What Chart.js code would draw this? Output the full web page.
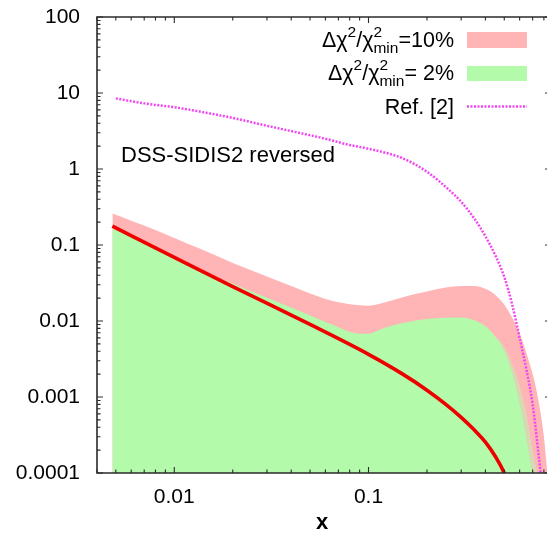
<!DOCTYPE html>
<html>
<head>
<meta charset="utf-8">
<script src="https://cdn.jsdelivr.net/npm/chart.js@4.4.1/dist/chart.umd.min.js"></script>
<style>
html,body{margin:0;padding:0;background:#fff;}
#wrap{width:547px;height:537px;position:relative;}
</style>
</head>
<body>
<div id="wrap"><canvas id="c"></canvas></div>
<script>
// ---------- data ----------
const xBand = [0.0048, 0.006, 0.008, 0.01, 0.0136, 0.02, 0.03, 0.04, 0.05, 0.06, 0.07, 0.08, 0.09, 0.1, 0.11, 0.13, 0.16, 0.2, 0.25, 0.3, 0.35, 0.4, 0.45, 0.5, 0.55, 0.6, 0.65, 0.7, 0.75, 0.8, 0.84];
const band10Upper = [0.26, 0.209, 0.158, 0.124, 0.089, 0.058, 0.0385, 0.0288, 0.023, 0.0195, 0.0176, 0.0166, 0.0161, 0.0159, 0.0165, 0.0185, 0.0215, 0.0245, 0.0275, 0.0288, 0.0288, 0.0265, 0.022, 0.0165, 0.011, 0.0068, 0.0038, 0.002, 0.0009, 0.0003, 0.00008];
const band2Upper = [0.163, 0.128, 0.089, 0.067, 0.0466, 0.0309, 0.0202, 0.0149, 0.0118, 0.0097, 0.0083, 0.0072, 0.0068, 0.0068, 0.0074, 0.0086, 0.0097, 0.0106, 0.011, 0.0111, 0.0102, 0.0085, 0.0062, 0.004, 0.002, 0.0008, 0.00028, 0.00009, 0.00003, 0.00001, 0.000005];
const xOverlap = [0.45, 0.5, 0.55, 0.6, 0.65, 0.7, 0.75, 0.8];
const overlapUpper = [0.0062, 0.0046, 0.0027, 0.0014, 0.0006, 0.0002, 0.00008, 0.00002];
const xCentral = [0.0048, 0.01, 0.02, 0.05, 0.1, 0.15, 0.2, 0.25, 0.3, 0.35, 0.4, 0.45, 0.5, 0.55];
const central = [0.177, 0.0689, 0.0284, 0.009, 0.00364, 0.002, 0.00123, 0.0008, 0.00054, 0.00037, 0.000255, 0.000165, 0.0001, 0.00005];
const xRef = [0.005, 0.007, 0.01, 0.0135, 0.02, 0.03, 0.04, 0.06, 0.08, 0.1, 0.15, 0.2, 0.26, 0.3, 0.35, 0.4, 0.45, 0.5, 0.55, 0.6, 0.65, 0.7, 0.75, 0.78, 0.8];
const ref2 = [8.5, 7.3, 6.5, 5.7, 4.7, 3.7, 3.15, 2.5, 2.07, 1.85, 1.38, 0.92, 0.53, 0.37, 0.225, 0.13, 0.073, 0.038, 0.0162, 0.006, 0.0023, 0.0008, 0.00018, 0.00007, 0.00003];

const xTickValues = [0.01, 0.1];
const xTickLabels = ['0.01', '0.1'];
const yTickValues = [0.0001, 0.001, 0.01, 0.1, 1, 10, 100];
const yTickLabels = ['0.0001', '0.001', '0.01', '0.1', '1', '10', '100'];
const xTitle = 'x';
const annotationText = 'DSS-SIDIS2 reversed';
const legendValues = ['=10%', '= 2%'];
const legendRef = 'Ref. [2]';

// ---------- styling ----------
const FONT = "'Liberation Sans', Arial, Helvetica, sans-serif";
const PINK = 'rgb(255,181,181)';
const GREEN = 'rgb(179,251,171)';
const TAN = 'rgb(216,216,180)';
const RED = 'rgb(238,0,0)';
const MAGENTA = 'rgb(243,70,243)';

const pts = (xs, ys) => xs.map((x, i) => ({x: x, y: ys[i]}));

const framePlugin = {
  id: 'frame',
  afterDatasetsDraw(chart) {
    const {ctx, chartArea: a, scales} = chart;
    const xs = scales.x, ys = scales.y;
    ctx.save();
    ctx.strokeStyle = '#2b2b2b';
    ctx.lineWidth = 1.6;
    ctx.beginPath();
    ctx.moveTo(a.right + 3, a.top); ctx.lineTo(a.left, a.top);
    ctx.lineTo(a.left, a.bottom); ctx.lineTo(a.right + 3, a.bottom);
    ctx.stroke();
    ctx.lineWidth = 1.1;
    ctx.beginPath();
    for (let e = -3; e <= 0; e++) {
      for (let m = 1; m <= 9; m++) {
        const v = m * Math.pow(10, e);
        if (v < xs.min || v > xs.max) continue;
        const px = xs.getPixelForValue(v);
        const len = m === 1 ? 6 : 3.5;
        ctx.moveTo(px, a.bottom); ctx.lineTo(px, a.bottom - len);
        ctx.moveTo(px, a.top); ctx.lineTo(px, a.top + len);
      }
    }
    for (let e = -4; e <= 2; e++) {
      for (let m = 1; m <= 9; m++) {
        const v = m * Math.pow(10, e);
        if (v < ys.min * 0.999 || v > ys.max * 1.001) continue;
        const py = ys.getPixelForValue(v);
        const len = m === 1 ? 6 : 3.5;
        ctx.moveTo(a.left, py); ctx.lineTo(a.left + len, py);
        if (m === 1) { ctx.moveTo(a.right, py); ctx.lineTo(a.right - 2, py); }
      }
    }
    ctx.stroke();
    ctx.restore();
  },
  afterDraw(chart) {
    const ctx = chart.ctx;
    ctx.save();
    ctx.fillStyle = '#000';
    // annotation
    ctx.font = '22px ' + FONT;
    ctx.textAlign = 'left';
    ctx.textBaseline = 'alphabetic';
    ctx.fillText(annotationText, 121, 162);
    // legend
    const big = '21.5px ' + FONT, small = '15.5px ' + FONT;
    function drawRich(parts, rightX, baseY) {
      let w = 0;
      const segs = parts.map(p => {
        let width;
        if (p.k === 'n') { ctx.font = big; width = ctx.measureText(p.t).width; }
        else if (p.k === 'sup') { ctx.font = small; width = ctx.measureText(p.t).width; }
        else { ctx.font = small; width = Math.max(ctx.measureText(p.sup).width, ctx.measureText(p.sub).width); }
        w += width;
        return Object.assign({}, p, {width: width});
      });
      let x = rightX - w;
      for (const s of segs) {
        if (s.k === 'n') { ctx.font = big; ctx.fillText(s.t, x, baseY); }
        else if (s.k === 'sup') { ctx.font = small; ctx.fillText(s.t, x, baseY - 10); }
        else { ctx.font = small; ctx.fillText(s.sup, x, baseY - 10); ctx.fillText(s.sub, x, baseY + 6); }
        x += s.width;
      }
    }
    const chiParts = v => [
      {k: 'n', t: 'Δχ'}, {k: 'sup', t: '2'}, {k: 'n', t: '/χ'},
      {k: 'stack', sup: '2', sub: 'min'}, {k: 'n', t: v}
    ];
    drawRich(chiParts(legendValues[0]), 454, 47);
    drawRich(chiParts(legendValues[1]), 454, 80);
    ctx.font = big;
    ctx.textAlign = 'right';
    ctx.fillText(legendRef, 454, 114);
    ctx.fillStyle = PINK;
    ctx.fillRect(467, 32, 60, 16);
    ctx.fillStyle = GREEN;
    ctx.fillRect(467, 66, 60, 15);
    ctx.strokeStyle = MAGENTA;
    ctx.lineWidth = 2.5;
    ctx.setLineDash([2, 1.5]);
    ctx.beginPath(); ctx.moveTo(467, 106.5); ctx.lineTo(527, 106.5); ctx.stroke();
    ctx.restore();
  }
};

new Chart(document.getElementById('c'), {
  type: 'line',
  data: {
    datasets: [
      {label: 'central', data: pts(xCentral, central), borderColor: RED, borderWidth: 3.6, pointRadius: 0, fill: false, cubicInterpolationMode: 'monotone', clip: 0},
      {label: legendRef, data: pts(xRef, ref2), borderColor: MAGENTA, borderWidth: 2.5, borderDash: [2, 1.5], pointRadius: 0, fill: false, cubicInterpolationMode: 'monotone', clip: 0},
      {label: '2%', data: pts(xBand, band2Upper), borderWidth: 0, borderColor: 'rgba(0,0,0,0)', backgroundColor: GREEN, pointRadius: 0, fill: 'start', cubicInterpolationMode: 'monotone', clip: 0},
      {label: 'overlap', data: pts(xOverlap, overlapUpper), borderWidth: 0, borderColor: 'rgba(0,0,0,0)', backgroundColor: TAN, pointRadius: 0, fill: 'start', cubicInterpolationMode: 'monotone', clip: 0},
      {label: '10%', data: pts(xBand, band10Upper), borderWidth: 0, borderColor: 'rgba(0,0,0,0)', backgroundColor: PINK, pointRadius: 0, fill: 'start', cubicInterpolationMode: 'monotone', clip: 0}
    ]
  },
  options: {
    responsive: true,
    maintainAspectRatio: false,
    animation: false,
    events: [],
    layout: {padding: {top: 17, right: 0, left: 0, bottom: 0}},
    plugins: {legend: {display: false}, tooltip: {enabled: false}},
    scales: {
      x: {
        type: 'logarithmic', min: 0.004, max: 0.83,
        grid: {display: false, drawTicks: false},
        border: {display: false},
        ticks: {
          color: '#000', font: {family: FONT, size: 21}, padding: 12, maxRotation: 0, autoSkip: false,
          callback: (v) => { const i = xTickValues.findIndex(t => Math.abs(t - v) / t < 1e-6); return i >= 0 ? xTickLabels[i] : ''; }
        },
        afterBuildTicks: (s) => { s.ticks = xTickValues.map(v => ({value: v})); },
        afterFit: (s) => { s.height = 64; s.paddingLeft = 0; s.paddingRight = 0; },
        title: {display: true, text: xTitle, color: '#000', font: {family: FONT, size: 22, weight: 'bold'}, padding: {top: 0, bottom: 1}}
      },
      y: {
        type: 'logarithmic', min: 0.0001, max: 100,
        grid: {display: false, drawTicks: false},
        border: {display: false},
        ticks: {
          color: '#000', font: {family: FONT, size: 21}, padding: 17, autoSkip: false,
          callback: (v) => { const i = yTickValues.findIndex(t => Math.abs(t - v) / t < 1e-6); return i >= 0 ? yTickLabels[i] : ''; }
        },
        afterBuildTicks: (s) => { s.ticks = yTickValues.map(v => ({value: v})); },
        afterFit: (s) => { s.width = 97; s.paddingTop = 0; s.paddingBottom = 0; }
      }
    }
  },
  plugins: [framePlugin]
});
</script>
</body>
</html>
